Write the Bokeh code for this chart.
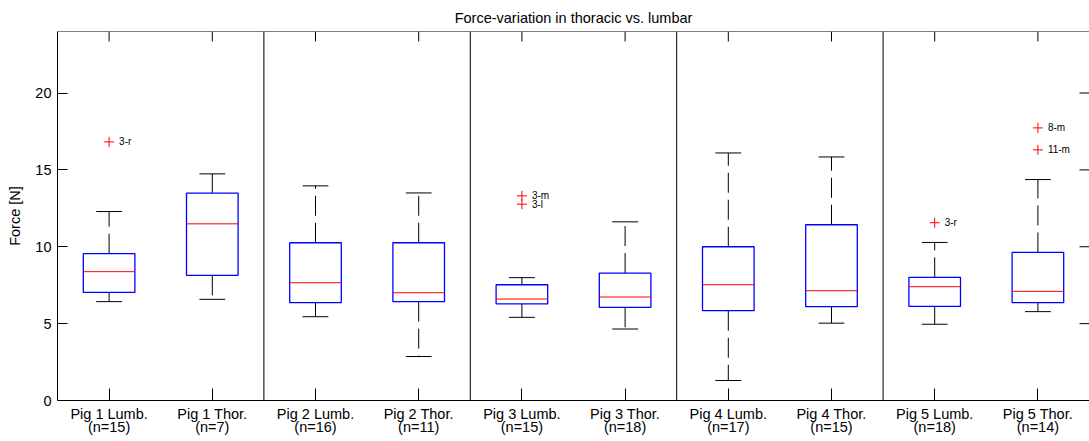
import math
from bokeh.plotting import figure
from bokeh.models import FixedTicker, Span, ColumnDataSource, Range1d
from bokeh.embed import file_html
from bokeh.resources import INLINE
from bokeh.core.properties import value

# ---------------- data ----------------
categories = ["Pig 1 Lumb.", "Pig 1 Thor.", "Pig 2 Lumb.", "Pig 2 Thor.", "Pig 3 Lumb.",
              "Pig 3 Thor.", "Pig 4 Lumb.", "Pig 4 Thor.", "Pig 5 Lumb.", "Pig 5 Thor."]
pig_ids = [1, 1, 2, 2, 3, 3, 4, 4, 5, 5]
n_counts = [15, 7, 16, 11, 15, 18, 17, 15, 18, 14]
whisker_low = [6.43, 6.58, 5.45, 2.86, 5.41, 4.65, 1.30, 5.03, 4.96, 5.78]
q1 = [7.03, 8.14, 6.36, 6.43, 6.28, 6.06, 5.84, 6.10, 6.12, 6.36]
median = [8.38, 11.49, 7.66, 7.01, 6.60, 6.73, 7.53, 7.14, 7.40, 7.10]
q3 = [9.55, 13.49, 10.26, 10.26, 7.53, 8.29, 10.00, 11.43, 8.01, 9.63]
whisker_high = [12.29, 14.74, 13.96, 13.50, 7.99, 11.62, 16.10, 15.84, 10.28, 14.37]
outlier_box = [1, 5, 5, 9, 10, 10]
outlier_force = [16.82, 13.31, 12.77, 11.56, 17.73, 16.30]
outlier_label = ["3-r", "3-m", "3-l", "3-r", "8-m", "11-m"]
y_ticks = [0, 5, 10, 15, 20]

FONT = "Liberation Sans"
BOX_W = 0.5
CAP_W = 0.25
X_START, X_END = 0.5, 10.5
Y_START, Y_END = 0, 24

pos = list(range(1, len(categories) + 1))
src = ColumnDataSource(dict(
    pos=pos, lo=whisker_low, q1=q1, med=median, q3=q3, hi=whisker_high,
    m0=[x - BOX_W / 2 for x in pos], m1=[x + BOX_W / 2 for x in pos],
    c0=[x - CAP_W / 2 for x in pos], c1=[x + CAP_W / 2 for x in pos],
))
osrc = ColumnDataSource(dict(x=outlier_box, y=outlier_force, t=outlier_label))

p = figure(width=1089, height=441, x_range=Range1d(X_START, X_END),
           y_range=Range1d(Y_START, Y_END),
           output_backend="svg", toolbar_location=None,
           title="Force-variation in thoracic vs. lumbar",
           min_border_left=57, min_border_right=0, min_border_top=31, min_border_bottom=41)

p.xgrid.visible = False
p.ygrid.visible = False
p.outline_line_color = None
p.background_fill_color = "white"
p.border_fill_color = "white"

# top frame line
p.add_layout(Span(location=Y_END, dimension="width", line_color="black", line_width=1))

# separators between pigs
for i in range(len(pos) - 1):
    if pig_ids[i] != pig_ids[i + 1]:
        p.add_layout(Span(location=(pos[i] + pos[i + 1]) / 2, dimension="height",
                          line_color="black", line_width=1))

# top and right inward ticks
p.ray(x=pos, y=[Y_END] * len(pos), length=10, length_units="screen",
      angle=-math.pi / 2, line_color="black", line_width=1)
p.ray(x=[X_END] * len(y_ticks), y=y_ticks, length=10, length_units="screen",
      angle=math.pi, line_color="black", line_width=1)

# whiskers (dashed)
p.segment(x0="pos", y0="q3", x1="pos", y1="hi", source=src, line_color="black",
          line_width=1, line_dash="20 7")
p.segment(x0="pos", y0="q1", x1="pos", y1="lo", source=src, line_color="black",
          line_width=1, line_dash="20 7")
# caps
p.segment(x0="c0", y0="hi", x1="c1", y1="hi", source=src, line_color="black", line_width=1)
p.segment(x0="c0", y0="lo", x1="c1", y1="lo", source=src, line_color="black", line_width=1)
# boxes
p.vbar(x="pos", width=BOX_W, bottom="q1", top="q3", source=src, fill_color="white",
       line_color="blue", line_width=1.3)
# medians
p.segment(x0="m0", y0="med", x1="m1", y1="med", source=src, line_color="red", line_width=1)

# outliers
p.scatter(x="x", y="y", source=osrc, marker="cross", size=10, line_color="red", line_width=1)
p.text(x="x", y="y", text="t", source=osrc, x_offset=10, text_baseline="middle",
       text_font_size="10px", text_font=value(FONT), text_color="black")

# axes
p.xaxis.ticker = FixedTicker(ticks=pos)
p.xaxis.major_label_overrides = {x: f"{c}\n(n={n})" for x, c, n in zip(pos, categories, n_counts)}
p.yaxis.ticker = FixedTicker(ticks=y_ticks)
p.yaxis.axis_label = "Force [N]"
for ax in (p.xaxis[0], p.yaxis[0]):
    ax.major_tick_in = 10
    ax.major_tick_out = 0
    ax.minor_tick_line_color = None
    ax.axis_line_color = "black"
    ax.major_tick_line_color = "black"
    ax.major_label_text_font = FONT
    ax.major_label_text_font_size = "14.5px"
    ax.major_label_text_color = "black"
p.xaxis.major_tick_in = 12
p.xaxis.major_label_standoff = 5
p.xaxis.major_label_text_line_height = 0.82
p.yaxis.major_label_standoff = 6
p.yaxis.axis_label_text_font = FONT
p.yaxis.axis_label_text_font_size = "14.5px"
p.yaxis.axis_label_text_font_style = "normal"
p.yaxis.axis_label_text_color = "black"
p.yaxis.axis_label_standoff = 9

p.title.align = "center"
p.title.text_font = FONT
p.title.text_font_size = "14.5px"
p.title.text_font_style = "normal"
p.title.text_color = "black"
p.title.standoff = 12

open("out.html", "w").write(file_html(p, INLINE))
